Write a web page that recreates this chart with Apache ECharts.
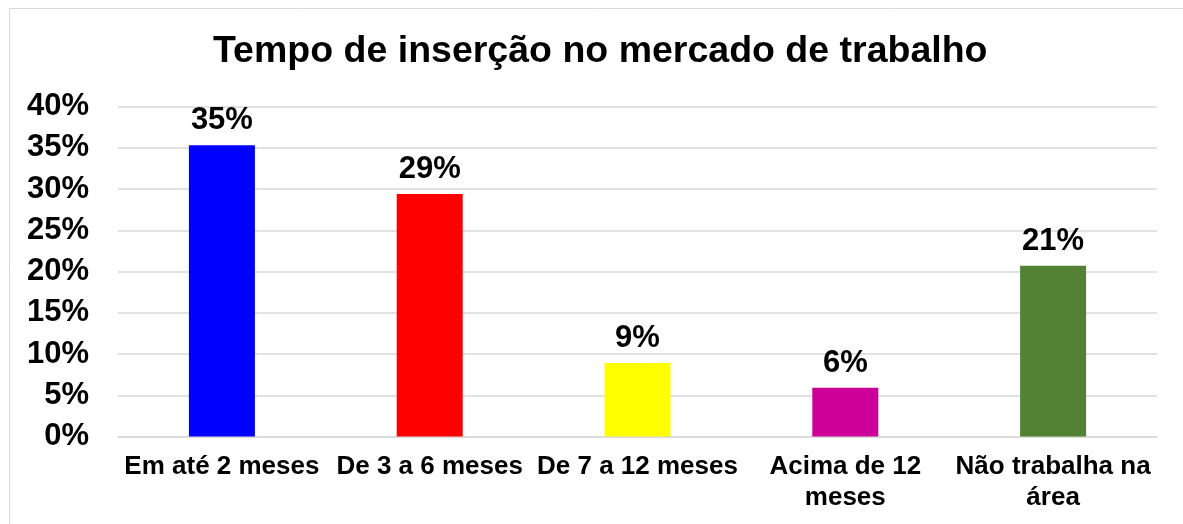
<!DOCTYPE html>
<html><head><meta charset="utf-8">
<script src="https://cdn.jsdelivr.net/npm/echarts@6/dist/echarts.min.js"></script>
<style>html,body{margin:0;padding:0;background:#fff}#c{width:1183px;height:524px}</style>
</head><body><div id="c"></div>
<script>
const title = 'Tempo de inserção no mercado de trabalho';
const categories = ['Em até 2 meses', 'De 3 a 6 meses', 'De 7 a 12 meses', 'Acima de 12\nmeses', 'Não trabalha na\nárea'];
const values = [35.3, 29.4, 8.9, 5.9, 20.7];
const colors = ['#0000FF', '#FF0000', '#FFFF00', '#CC0099', '#548235'];
const yTicks = [0, 5, 10, 15, 20, 25, 30, 35, 40];

const chart = echarts.init(document.getElementById('c'), null, {renderer: 'canvas'});
const font = 'Liberation Sans, Arial, sans-serif';
chart.setOption({
  backgroundColor: '#fff',
  animation: false,
  graphic: [{type: 'rect', shape: {x: 9.5, y: 8.5, width: 1300, height: 700}, style: {fill: 'none', stroke: '#d9d9d9', lineWidth: 1}, silent: true}],
  title: {text: title, left: 208, top: 28, textStyle: {fontFamily: font, fontSize: 37.5, fontWeight: 'bold', color: '#000'}},
  grid: {left: 118, right: 26, top: 106.5, bottom: 87.5, containLabel: false},
  xAxis: {type: 'category', data: categories,
    axisLine: {lineStyle: {color: '#d9d9d9', width: 1.5}}, axisTick: {show: false},
    axisLabel: {interval: 0, margin: 15, fontFamily: font, fontSize: 26, fontWeight: 'bold', color: '#000', lineHeight: 31}},
  yAxis: {type: 'value', min: yTicks[0], max: yTicks[yTicks.length-1], interval: 5,
    axisLine: {show: false}, axisTick: {show: false},
    splitLine: {lineStyle: {color: '#d9d9d9', width: 1.5}},
    axisLabel: {margin: 29, fontFamily: font, fontSize: 31, fontWeight: 'bold', color: '#000', formatter: v => v + '%'}},
  series: [{type: 'bar', barWidth: 66,
    data: values.map((v, i) => ({value: v, itemStyle: {color: colors[i]}})),
    label: {show: true, position: 'top', distance: 9, fontFamily: font, fontSize: 31, fontWeight: 'bold', color: '#000',
      formatter: p => Math.round(p.value) + '%'}}]
});
</script></body></html>
